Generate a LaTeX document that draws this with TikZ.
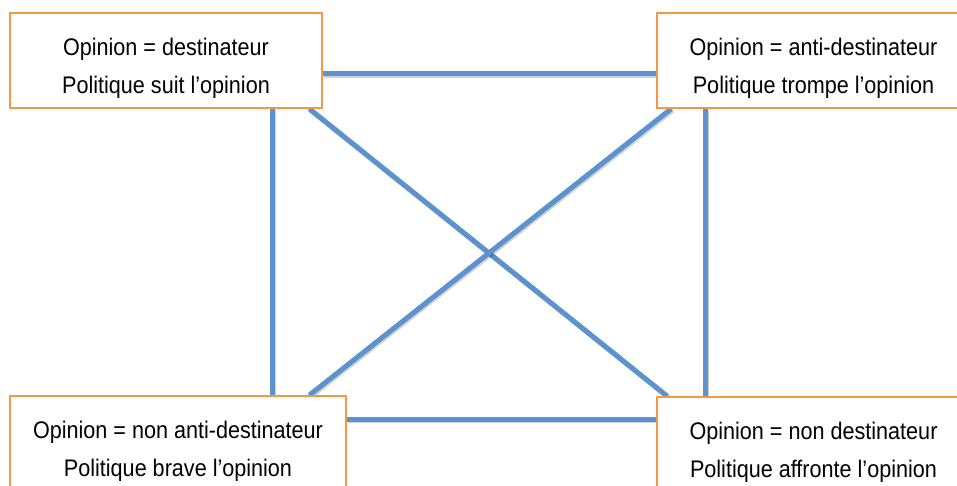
\documentclass[tikz,border=0pt]{standalone}
\usepackage{fontspec}
\setmainfont[FakeStretch=0.9]{Liberation Sans}
\usetikzlibrary{calc,backgrounds}
\definecolor{boxorange}{RGB}{247,150,70}
\definecolor{linkblue}{RGB}{92,146,206}
\begin{document}
\begin{tikzpicture}[x=1pt,y=-1pt,
  box/.style={draw=boxorange, line width=1.5pt, fill=white, align=center, inner sep=0pt,
    minimum height=95pt, font=\fontsize{24}{38}\selectfont},
  link/.style={draw=linkblue, line width=5pt,
    preaction={draw=black, opacity=0.18, line width=5pt, transform canvas={shift={(1.2pt,-1.5pt)}}}}]
\useasboundingbox (0,0) rectangle (957,486);
\clip (0,0) rectangle (957,486);
\node[box, minimum width=312pt] (tl) at (166,60.5) {\rule{0pt}{32pt}Opinion = destinateur\\Politique suit l’opinion};
\node[box, minimum width=313pt] (tr) at (813.5,60.5) {\rule{0pt}{32pt}Opinion = anti-destinateur\\Politique trompe l’opinion};
\node[box, minimum width=336pt] (bl) at (178,443.5) {\rule{0pt}{32pt}Opinion = non anti-destinateur\\Politique brave l’opinion};
\node[box, minimum width=313pt] (br) at (813.5,444.5) {\rule{0pt}{32pt}Opinion = non destinateur\\Politique affronte l’opinion};
\begin{scope}[on background layer]
\fill[white] (0,0) rectangle (957,486);
\draw[link] ($(tl.south east)+(0,-35)$) -- ($(tr.south west)+(0,-35)$);
\draw[link] ($(bl.north east)+(0,24)$) -- ($(br.north west)+(0,23)$);
\draw[link] ($(tl.south west)+(263,0)$) -- ($(bl.north west)+(263,0)$);
\draw[link] ($(tr.south west)+(49,0)$) -- ($(br.north west)+(49,0)$);
\draw[link] ($(tl.south west)+(300,0)$) -- ($(br.north west)+(11,0)$);
\draw[link] ($(tr.south west)+(15,0)$) -- ($(bl.north west)+(300,0)$);
\end{scope}
\end{tikzpicture}
\end{document}
